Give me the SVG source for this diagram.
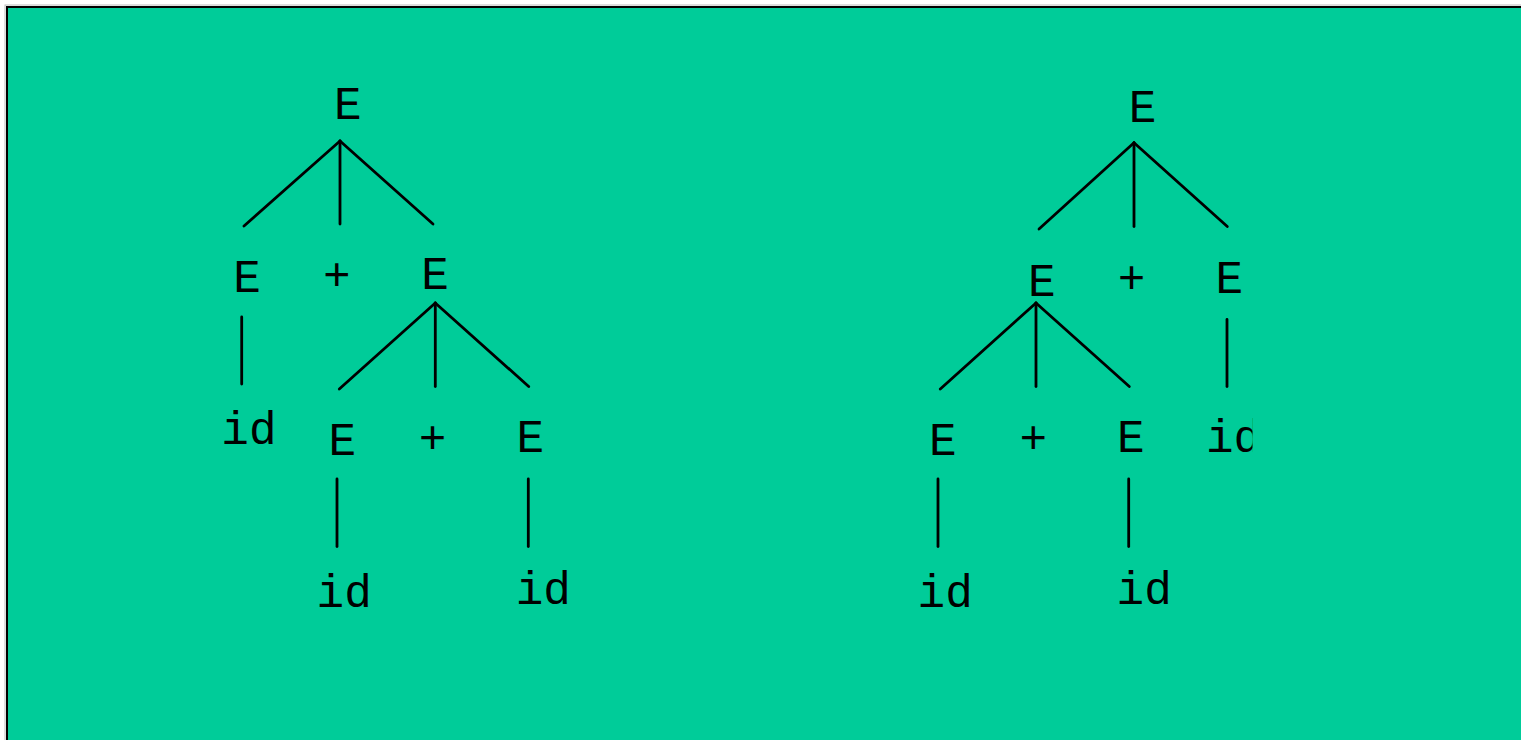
<svg xmlns="http://www.w3.org/2000/svg" width="1521" height="740" viewBox="0 0 1521 740">
<defs>
<style>
.t{font-family:"Liberation Mono","DejaVu Sans Mono",monospace;font-size:46px;fill:#000;text-anchor:middle}
.c line{stroke:#000;stroke-width:2.8;stroke-linecap:round}
</style>
<clipPath id="clipR"><rect x="0" y="0" width="1252.5" height="740"/></clipPath>
</defs>
<rect x="0" y="0" width="1521" height="740" fill="#ffffff"/>
<rect x="5" y="5" width="1530" height="750" fill="none" stroke="#bbbbbb" stroke-width="1"/>
<rect x="7" y="7" width="1530" height="750" fill="#00CC99" stroke="#000" stroke-width="2"/>

<g id="connectors" class="c">
<line x1="340" y1="141" x2="244" y2="226"/>
<line x1="340" y1="141" x2="340" y2="224"/>
<line x1="340" y1="141" x2="433" y2="224"/>
<line x1="241.7" y1="317" x2="241.7" y2="384"/>
<line x1="435.3" y1="303" x2="339.3" y2="389"/>
<line x1="435.3" y1="303" x2="435.3" y2="386.5"/>
<line x1="435.3" y1="303" x2="528.7" y2="386.5"/>
<line x1="337" y1="479" x2="337" y2="546.5"/>
<line x1="528.3" y1="479" x2="528.3" y2="546.5"/>

<line x1="1134" y1="142.7" x2="1039" y2="229"/>
<line x1="1134" y1="142.7" x2="1134" y2="226.5"/>
<line x1="1134" y1="142.7" x2="1227.3" y2="226.5"/>
<line x1="1036" y1="303" x2="940.3" y2="389"/>
<line x1="1036" y1="303" x2="1036" y2="386.5"/>
<line x1="1036" y1="303" x2="1129.3" y2="386.5"/>
<line x1="1227" y1="319.5" x2="1227" y2="386.5"/>
<line x1="938" y1="479" x2="938" y2="546.5"/>
<line x1="1128.7" y1="479" x2="1128.7" y2="546.5"/>
</g>

<g id="L-root"><text class="t" x="347.8" y="119">E</text></g>
<g id="L-E1"><text class="t" x="247" y="292">E</text></g>
<g id="L-plus1"><text class="t" x="336.8" y="290">+</text></g>
<g id="L-E2"><text class="t" x="435" y="289.3">E</text></g>
<g id="L-id1"><text class="t" x="248.9" y="444">id</text></g>
<g id="L-E3"><text class="t" x="342.3" y="455">E</text></g>
<g id="L-plus2"><text class="t" x="432.5" y="453.3">+</text></g>
<g id="L-E4"><text class="t" x="530.3" y="452.3">E</text></g>
<g id="L-id2"><text class="t" x="344.2" y="607.3">id</text></g>
<g id="L-id3"><text class="t" x="543.3" y="604">id</text></g>

<g id="R-root"><text class="t" x="1142.5" y="121.7">E</text></g>
<g id="R-E1"><text class="t" x="1041.7" y="295.7">E</text></g>
<g id="R-plus1"><text class="t" x="1131.5" y="293.3">+</text></g>
<g id="R-E2"><text class="t" x="1229.2" y="292.7">E</text></g>
<g id="R-E3"><text class="t" x="942.7" y="455">E</text></g>
<g id="R-plus2"><text class="t" x="1033.2" y="453.3">+</text></g>
<g id="R-E4"><text class="t" x="1130.8" y="452.3">E</text></g>
<g id="R-id1"><text class="t" x="1233.6" y="451.7" clip-path="url(#clipR)">id</text></g>
<g id="R-id2"><text class="t" x="945.2" y="607.3">id</text></g>
<g id="R-id3"><text class="t" x="1144.2" y="604">id</text></g>
</svg>
